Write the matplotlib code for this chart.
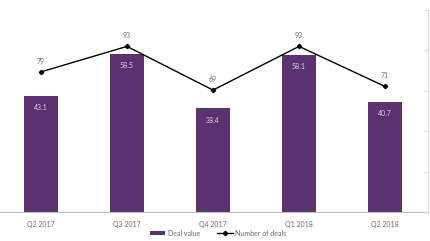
import numpy as np
import matplotlib.pyplot as plt
import matplotlib as mpl

mpl.rcParams["font.family"] = ["Lato", "DejaVu Sans"]

quarters = ["Q2 2017", "Q3 2017", "Q4 2017", "Q1 2018", "Q2 2018"]
deal_value = [43.1, 58.5, 38.4, 58.1, 40.7]
num_deals = [79, 93, 69, 93, 71]

BAR_COLOR = "#5b3270"
TEXT_GRAY = "#6b6b6b"

fig = plt.figure(figsize=(4.30, 2.41), dpi=100)
ax = fig.add_axes([-2 / 430, 29 / 241, 430 / 430, 202 / 241])
ax2 = ax.twinx()

x = np.arange(len(quarters))
bars = ax.bar(x, deal_value, width=0.4, color=BAR_COLOR, label="Deal value", zorder=2)
ax.set_xlim(-0.5, len(quarters) - 0.5)
ax.set_ylim(0, 74.8)

for xi, v in zip(x, deal_value):
    ax.annotate(f"{v}", (xi, v), xytext=(0, -6), textcoords="offset points",
                ha="center", va="top", fontsize=5, color="#d8cce3")

line, = ax2.plot(x, num_deals, color="black", lw=1.0, marker="D", ms=2.2,
                 label="Number of deals", zorder=3)
ax2.set_ylim(2, 113)
for xi, v in zip(x, num_deals):
    ax2.annotate(f"{v}", (xi, v), xytext=(0, 5), textcoords="offset points",
                 ha="center", va="bottom", fontsize=5, color=TEXT_GRAY)

# axes styling
ax.set_yticks([])
for s in ["top", "left", "right"]:
    ax.spines[s].set_visible(False)
ax.spines["bottom"].set_color("#bfbfbf")
ax.spines["bottom"].set_linewidth(0.8)
ax.set_xticks(x)
ax.set_xticklabels(quarters, fontsize=5, color=TEXT_GRAY)
ax.tick_params(axis="x", length=0, pad=6.5)

for s in ["top", "left", "bottom"]:
    ax2.spines[s].set_visible(False)
ax2.spines["right"].set_color("#d9d9d9")
ax2.spines["right"].set_linewidth(0.8)
ax2.set_yticks(np.linspace(2, 113, 6))
ax2.set_yticklabels([])
ax2.tick_params(axis="y", direction="in", length=3, color="#d9d9d9", width=0.8)

fig.legend([bars, line], ["Deal value", "Number of deals"], loc="center",
           bbox_to_anchor=(218 / 430, 1 - 233 / 241), ncol=2, frameon=False,
           fontsize=5, labelcolor=TEXT_GRAY, handlelength=2.2, handleheight=0.6,
           columnspacing=2.5, handletextpad=0.3)

fig.savefig("out.png", dpi=100)
